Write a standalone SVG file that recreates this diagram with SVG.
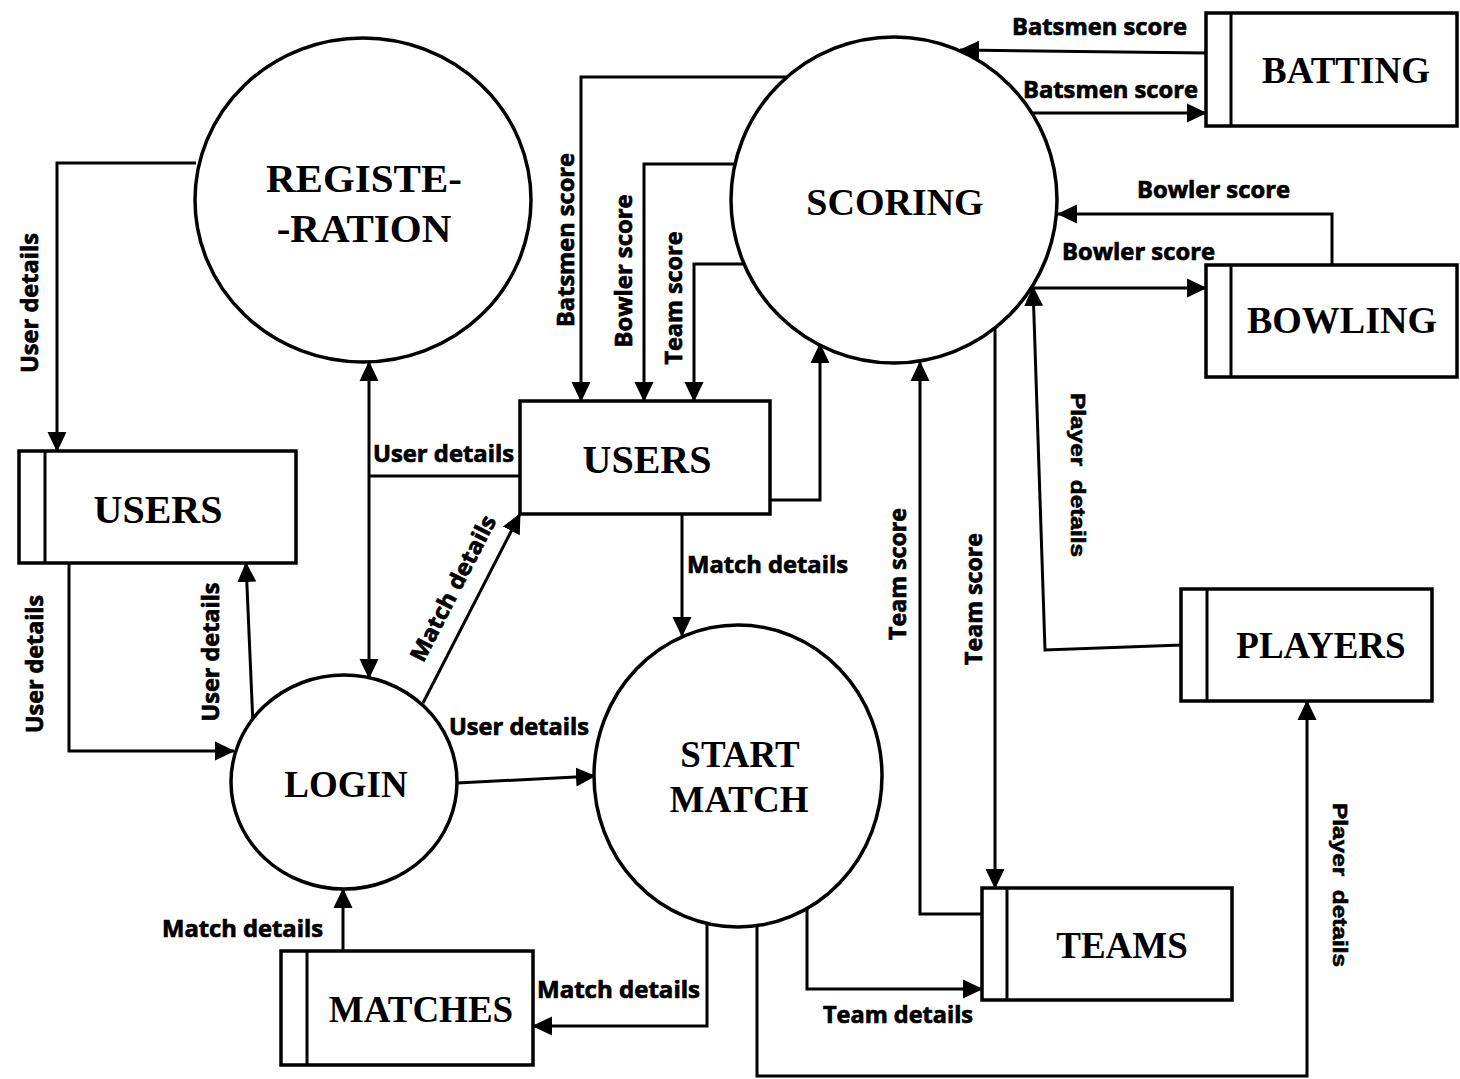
<svg xmlns="http://www.w3.org/2000/svg" width="1460" height="1079" viewBox="0 0 1460 1079">
<defs>
<marker id="ah" markerUnits="userSpaceOnUse" markerWidth="20" markerHeight="20" viewBox="0 0 20 20" refX="19" refY="10" orient="auto">
<path d="M0,0.5 L20,10 L0,19.5 z" fill="#000"/>
</marker>
<style>
.shape{fill:#fff;stroke:#000;stroke-width:3.5}
.div{stroke:#000;stroke-width:3}
.conn path{fill:none;stroke:#000;stroke-width:3}
.arr{marker-end:url(#ah)}
.nt{font-family:"Liberation Serif","Times New Roman",serif;font-weight:bold;text-anchor:middle;fill:#000}
.lb{font-family:"Open Sans","Liberation Sans",sans-serif;font-weight:bold;font-size:22.5px;fill:#000;stroke:#000;stroke-width:0.7}
.lc{text-anchor:middle}
.pl{font-family:"Liberation Sans",Arial,sans-serif;font-weight:bold;font-size:21px;fill:#000;stroke:#000;stroke-width:0.6;text-anchor:middle}
</style>
</defs>
<rect width="1460" height="1079" fill="#fff"/>

<g id="connectors" class="conn">
<path class="arr" d="M196,163 H57 V451"/>
<path class="arr" d="M69,563 V751 H234"/>
<path class="arr" d="M253,725 L246,563"/>
<path class="arr" d="M369,476 V362"/>
<path class="arr" d="M369,476 V678"/>
<path d="M369,476 H520"/>
<path class="arr" d="M423,703 L520,514"/>
<path class="arr" d="M457,783 L595,776"/>
<path class="arr" d="M343,951 V889"/>
<path class="arr" d="M707,924 V1026 H533"/>
<path class="arr" d="M682,514 V636"/>
<path class="arr" d="M770,500 H820 V344"/>
<path class="arr" d="M788,77 H581 V401"/>
<path class="arr" d="M735,164 H644 V401"/>
<path class="arr" d="M744,264 H694 V401"/>
<path class="arr" d="M1206,53 L960,50"/>
<path class="arr" d="M1033,113 H1206"/>
<path class="arr" d="M1332,265 V214 H1058"/>
<path class="arr" d="M1032,288 H1206"/>
<path class="arr" d="M1182,645 L1045,650 L1033,287"/>
<path class="arr" d="M757,926 V1076 H1307 V701"/>
<path class="arr" d="M807,905 V989 H982"/>
<path class="arr" d="M982,914 H920 V362"/>
<path class="arr" d="M995,328 V888"/>
</g>

<g id="labels">
<text class="lb" x="1012" y="35" textLength="175" lengthAdjust="spacingAndGlyphs">Batsmen score</text>
<text class="lb" x="1023" y="98" textLength="175" lengthAdjust="spacingAndGlyphs">Batsmen score</text>
<text class="lb" x="1137" y="198" textLength="153" lengthAdjust="spacingAndGlyphs">Bowler score</text>
<text class="lb" x="1062" y="260" textLength="153" lengthAdjust="spacingAndGlyphs">Bowler score</text>
<text class="lb lc" transform="translate(574,240) rotate(-90)" textLength="174" lengthAdjust="spacingAndGlyphs">Batsmen score</text>
<text class="lb lc" transform="translate(632,271) rotate(-90)" textLength="153" lengthAdjust="spacingAndGlyphs">Bowler score</text>
<text class="lb lc" transform="translate(682,298) rotate(-90)" textLength="133" lengthAdjust="spacingAndGlyphs">Team score</text>
<text class="lb lc" transform="translate(38,303) rotate(-90)" textLength="140" lengthAdjust="spacingAndGlyphs">User details</text>
<text class="lb lc" transform="translate(43,664) rotate(-90)" textLength="138" lengthAdjust="spacingAndGlyphs">User details</text>
<text class="lb lc" transform="translate(219,652) rotate(-90)" textLength="139" lengthAdjust="spacingAndGlyphs">User details</text>
<text class="lb" x="373" y="462" textLength="141" lengthAdjust="spacingAndGlyphs">User details</text>
<text class="lb lc" transform="translate(460,592) rotate(-62.8)" textLength="161" lengthAdjust="spacingAndGlyphs">Match details</text>
<text class="lb" x="687" y="573" textLength="161" lengthAdjust="spacingAndGlyphs">Match details</text>
<text class="lb" x="449" y="735" textLength="140" lengthAdjust="spacingAndGlyphs">User details</text>
<text class="lb" x="162" y="937" textLength="161" lengthAdjust="spacingAndGlyphs">Match details</text>
<text class="lb" x="537" y="998" textLength="163" lengthAdjust="spacingAndGlyphs">Match details</text>
<text class="lb" x="823" y="1023" textLength="150" lengthAdjust="spacingAndGlyphs">Team details</text>
<text class="lb lc" transform="translate(906,574) rotate(-90)" textLength="132" lengthAdjust="spacingAndGlyphs">Team score</text>
<text class="lb lc" transform="translate(982,599) rotate(-90)" textLength="132" lengthAdjust="spacingAndGlyphs">Team score</text>
<text class="pl" transform="translate(1071,475) rotate(90)" textLength="164" lengthAdjust="spacingAndGlyphs" xml:space="preserve">Player  details</text>
<text class="pl" transform="translate(1333,885) rotate(90)" textLength="164" lengthAdjust="spacingAndGlyphs" xml:space="preserve">Player  details</text>
</g>

<g id="registeration">
<ellipse class="shape" cx="363" cy="200" rx="168" ry="162"/>
<text class="nt" x="364" y="192" font-size="41">REGISTE-</text>
<text class="nt" x="364" y="242" font-size="41">-RATION</text>
</g>

<g id="scoring">
<circle class="shape" cx="894" cy="200" r="163"/>
<text class="nt" x="895" y="215" font-size="38">SCORING</text>
</g>

<g id="login">
<ellipse class="shape" cx="344" cy="782" rx="113" ry="107"/>
<text class="nt" x="346" y="797" font-size="37">LOGIN</text>
</g>

<g id="start-match">
<ellipse class="shape" cx="738" cy="776" rx="144" ry="151"/>
<text class="nt" x="740" y="767" font-size="37">START</text>
<text class="nt" x="739" y="812" font-size="37">MATCH</text>
</g>

<g id="users-mid">
<rect class="shape" x="520" y="401" width="250" height="113"/>
<text class="nt" x="647" y="473" font-size="40">USERS</text>
</g>

<g id="users-store">
<rect class="shape" x="19" y="451" width="277" height="112"/>
<line class="div" x1="45" y1="451" x2="45" y2="563"/>
<text class="nt" x="158" y="523" font-size="40">USERS</text>
</g>

<g id="batting">
<rect class="shape" x="1206" y="13" width="251" height="113"/>
<line class="div" x1="1231" y1="13" x2="1231" y2="126"/>
<text class="nt" x="1346" y="83" font-size="37">BATTING</text>
</g>

<g id="bowling">
<rect class="shape" x="1206" y="265" width="251" height="112"/>
<line class="div" x1="1231" y1="265" x2="1231" y2="377"/>
<text class="nt" x="1342" y="333" font-size="38">BOWLING</text>
</g>

<g id="players">
<rect class="shape" x="1181" y="589" width="251" height="112"/>
<line class="div" x1="1207" y1="589" x2="1207" y2="701"/>
<text class="nt" x="1321" y="658" font-size="37">PLAYERS</text>
</g>

<g id="teams">
<rect class="shape" x="982" y="888" width="250" height="112"/>
<line class="div" x1="1007" y1="888" x2="1007" y2="1000"/>
<text class="nt" x="1122" y="958" font-size="37">TEAMS</text>
</g>

<g id="matches">
<rect class="shape" x="281" y="951" width="252" height="114"/>
<line class="div" x1="307" y1="951" x2="307" y2="1065"/>
<text class="nt" x="421" y="1022" font-size="37">MATCHES</text>
</g>
</svg>
